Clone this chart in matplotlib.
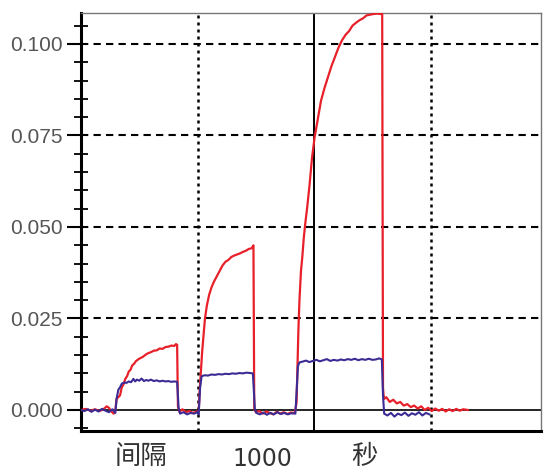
import matplotlib
matplotlib.use("Agg")
import matplotlib.pyplot as plt
from matplotlib.ticker import MultipleLocator, FormatStrFormatter

plt.rcParams['font.family'] = ['Liberation Sans', 'Noto Sans CJK SC', 'DejaVu Sans']

# time in seconds, signal values
red_t = [0, 40, 80, 120, 160, 200, 220, 240, 260, 280, 295,
         305, 320, 335, 350, 365, 380, 395, 410, 425, 440, 455, 470, 490, 510, 530, 550,
         575, 600, 625, 650, 675, 700, 725, 750, 775, 800, 815, 825,
         832, 845, 870, 900, 930, 960, 990, 1010,
         1020, 1030, 1040, 1052, 1064, 1080, 1100, 1120, 1140, 1165, 1190, 1215, 1240,
         1265, 1290, 1315, 1340, 1365, 1390, 1415, 1440, 1465, 1480,
         1487, 1500, 1530, 1560, 1590, 1620, 1650, 1680, 1710, 1740, 1770, 1800, 1835,
         1850, 1858, 1866, 1875, 1888, 1900, 1912, 1925, 1940, 1960, 1983, 2005, 2030,
         2060, 2090, 2120, 2150, 2180, 2210, 2240, 2270, 2300, 2330, 2360, 2390, 2420,
         2450, 2480, 2510, 2540, 2570, 2585,
         2592, 2600, 2620, 2650, 2680, 2710, 2740, 2770, 2800, 2830, 2860, 2890, 2920,
         2950, 2980, 3010, 3040, 3070, 3100, 3130, 3160, 3190, 3220, 3250, 3280, 3320]
red_v = [0.0, 0.0003, -0.0002, 0.0002, -0.0003, 0.0004, 0.0010, 0.0006, -0.0004, -0.0010, 0.0,
         0.0030, 0.0035, 0.0040, 0.0062, 0.0070, 0.0085, 0.0092, 0.0105, 0.0110, 0.0122, 0.0126,
         0.0133, 0.0138, 0.0142, 0.0145, 0.0150,
         0.0155, 0.0158, 0.0162, 0.0163, 0.0168, 0.0167, 0.0172, 0.0173, 0.0176, 0.0175, 0.0180, 0.0178,
         0.0010, -0.0005, 0.0002, -0.0006, -0.0003, -0.0008, -0.0005, -0.0004,
         0.0060, 0.0110, 0.0160, 0.0205, 0.0250, 0.0285, 0.0315, 0.0335, 0.0350, 0.0365, 0.0380,
         0.0395, 0.0405, 0.0410, 0.0418, 0.0422, 0.0425, 0.0428, 0.0432, 0.0435, 0.0440, 0.0442, 0.0450,
         0.0005, -0.0006, -0.0003, -0.0010, -0.0004, -0.0008, -0.0012, -0.0005, -0.0010, -0.0006,
         -0.0011, -0.0007, -0.0008,
         0.0020, 0.0120, 0.0220, 0.0300, 0.0380, 0.0420, 0.0470, 0.0510, 0.0550, 0.0610, 0.0690,
         0.0745, 0.0790, 0.0845, 0.0880, 0.0910, 0.0940, 0.0965, 0.0990, 0.1010, 0.1025, 0.1035,
         0.1050, 0.1058, 0.1065, 0.1070, 0.1078, 0.1080, 0.1082, 0.1083, 0.1082, 0.1083,
         0.0060, 0.0030, 0.0035, 0.0022, 0.0028, 0.0018, 0.0022, 0.0012, 0.0016, 0.0008, 0.0012,
         0.0004, 0.0010, 0.0000, 0.0006, -0.0003, 0.0004, -0.0002, 0.0003, -0.0004, 0.0002,
         -0.0003, 0.0003, -0.0002, 0.0002, 0.0000]

blue_t = [0, 30, 60, 90, 120, 150, 180, 210, 240, 270, 295,
          305, 320, 335, 350, 370, 390, 410, 430, 450, 465, 480, 500, 520, 540, 560, 580,
          600, 625, 650, 675, 700, 725, 750, 775, 800, 825,
          838, 850, 880, 910, 940, 970, 1000, 1010,
          1022, 1035, 1060, 1090, 1120, 1150, 1180, 1210, 1240, 1270, 1300, 1330, 1360,
          1390, 1420, 1450, 1475,
          1492, 1505, 1535, 1565, 1595, 1625, 1655, 1685, 1715, 1745, 1775, 1805, 1840,
          1852, 1862, 1875, 1900, 1930, 1960, 1990, 2020, 2050, 2080, 2110, 2140, 2170,
          2200, 2230, 2260, 2290, 2320, 2350, 2380, 2410, 2440, 2470, 2500, 2530, 2560, 2582,
          2592, 2602, 2630, 2660, 2690, 2720, 2750, 2780, 2810, 2840, 2870, 2900, 2930, 2960, 2990]
blue_v = [0.0, -0.0003, 0.0002, -0.0005, 0.0001, -0.0004, 0.0003, -0.0002, -0.0006, 0.0002, -0.0008,
          0.0030, 0.0055, 0.0062, 0.0072, 0.0075, 0.0074, 0.0078, 0.0076, 0.0085, 0.0078, 0.0083,
          0.0080, 0.0086, 0.0079, 0.0082, 0.0080,
          0.0083, 0.0079, 0.0081, 0.0078, 0.0080, 0.0078, 0.0079, 0.0077, 0.0078, 0.0077,
          0.0005, -0.0010, -0.0006, -0.0012, -0.0008, -0.0010, -0.0006, -0.0012,
          0.0060, 0.0092, 0.0095, 0.0094, 0.0097, 0.0096, 0.0098, 0.0097, 0.0099, 0.0098, 0.0100,
          0.0099, 0.0101, 0.0100, 0.0102, 0.0101, 0.0100,
          0.0003, -0.0008, -0.0012, -0.0007, -0.0013, -0.0008, -0.0012, -0.0006, -0.0011, -0.0008,
          -0.0012, -0.0009, -0.0010,
          0.0060, 0.0120, 0.0130, 0.0132, 0.0135, 0.0131, 0.0134, 0.0137, 0.0133, 0.0136, 0.0139,
          0.0134, 0.0137, 0.0135, 0.0138, 0.0136, 0.0139, 0.0137, 0.0140, 0.0136, 0.0139, 0.0137,
          0.0140, 0.0137, 0.0138, 0.0141, 0.0138,
          0.0040, -0.0010, -0.0015, -0.0008, -0.0018, -0.0010, -0.0014, -0.0007, -0.0016, -0.0009,
          -0.0013, -0.0006, -0.0015, -0.0008, -0.0012]

y_grid = [0.025, 0.050, 0.075, 0.100]
x_dotted = [1000, 3000]
x_marker = 2000
y_ticks = [0.000, 0.025, 0.050, 0.075, 0.100]

fig = plt.figure(figsize=(5.44, 4.70), dpi=100)
ax = fig.add_axes([81 / 544, 1 - 431 / 470, 460 / 544, 418 / 470])

ax.set_xlim(0, 3948)
ax.set_ylim(-0.00574, 0.10847)

for yv in y_grid:
    ax.axhline(yv, color='black', lw=1.5, linestyle=(0, (3.5, 2.5)), zorder=1)
for xv in x_dotted:
    ax.axvline(xv, color='black', lw=1.8, linestyle=(0, (1.2, 1.6)), zorder=1)
ax.axvline(x_marker, color='black', lw=1.4, zorder=1)
ax.axhline(0, color='black', lw=1.2, zorder=1)

ax.plot(red_t, red_v, color='#e8202a', lw=1.6, zorder=3)
ax.plot(blue_t, blue_v, color='#3b2c95', lw=1.5, zorder=4)

ax.set_yticks(y_ticks)
ax.yaxis.set_major_formatter(FormatStrFormatter('%.3f'))
ax.yaxis.set_minor_locator(MultipleLocator(0.005))
ax.tick_params(axis='y', which='major', direction='out', length=10, width=1.5,
               color='black', labelsize=15, labelcolor='#555555', pad=3)
ax.tick_params(axis='y', which='minor', direction='inout', length=10, width=1.3, color='black')
ax.set_xticks([])

for side in ['left', 'bottom']:
    ax.spines[side].set_linewidth(2.2)
    ax.spines[side].set_color('black')
for side in ['top', 'right']:
    ax.spines[side].set_linewidth(1.0)
    ax.spines[side].set_color('#777777')

fig.text(141 / 544, 1 - 456 / 470, '间隔', ha='center', va='center', fontsize=19,
         family=['Noto Sans CJK SC'], color='#333333')
fig.text(262 / 544, 1 - 459 / 470, '1000', ha='center', va='center', fontsize=17,
         family=['DejaVu Sans'], color='#333333')
fig.text(364 / 544, 1 - 456 / 470, '秒', ha='center', va='center', fontsize=19,
         family=['Noto Sans CJK SC'], color='#333333')

fig.savefig('out.png', dpi=100)
